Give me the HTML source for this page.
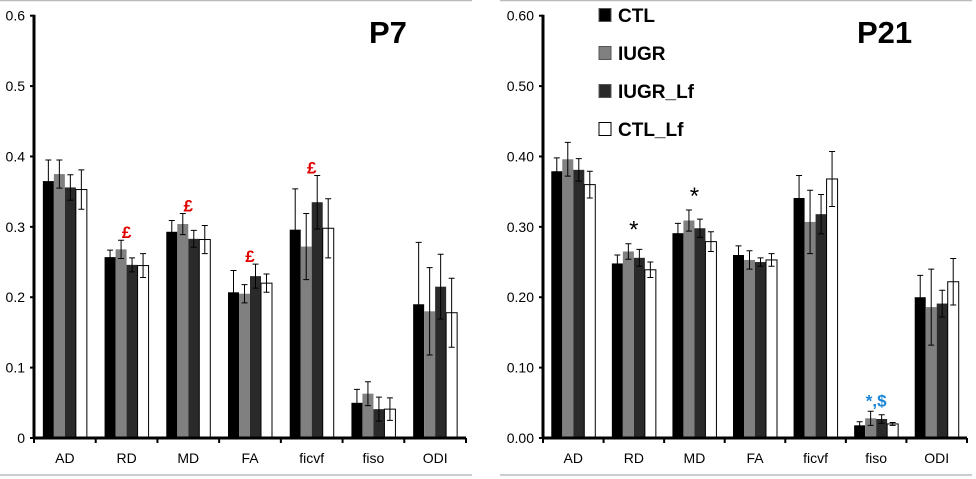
<!DOCTYPE html>
<html><head><meta charset="utf-8"><style>
html,body{margin:0;padding:0;background:#fff;}
svg{display:block;font-family:"Liberation Sans",sans-serif;}
</style></head><body>
<svg id="chart" width="976" height="479" viewBox="0 0 976 479" xmlns="http://www.w3.org/2000/svg">
<line x1="0" y1="0.5" x2="472" y2="0.5" stroke="#bbb" stroke-width="1.5"/>
<line x1="0" y1="475" x2="472" y2="475" stroke="#bbb" stroke-width="1.5"/>
<line x1="500" y1="0.5" x2="972" y2="0.5" stroke="#bbb" stroke-width="1.5"/>
<line x1="500" y1="475" x2="972" y2="475" stroke="#bbb" stroke-width="1.5"/>
<g id="legend"></g>
</svg>
<script>
const categories = ["AD","RD","MD","FA","ficvf","fiso","ODI"];
const seriesNames = ["CTL","IUGR","IUGR_Lf","CTL_Lf"];
const p7CTL = [0.365,0.257,0.293,0.207,0.296,0.050,0.190];
const p7IUGR = [0.375,0.268,0.304,0.205,0.272,0.063,0.180];
const p7IUGRLf = [0.356,0.246,0.283,0.230,0.335,0.041,0.215];
const p7CTLLf = [0.353,0.245,0.282,0.220,0.298,0.041,0.178];
const p7CTLErr = [0.030,0.010,0.016,0.031,0.058,0.019,0.088];
const p7IUGRErr = [0.020,0.013,0.015,0.013,0.047,0.017,0.062];
const p7IUGRLfErr = [0.018,0.010,0.012,0.017,0.038,0.017,0.046];
const p7CTLLfErr = [0.028,0.017,0.020,0.013,0.042,0.016,0.049];
const p21CTL = [0.379,0.248,0.291,0.260,0.341,0.018,0.200];
const p21IUGR = [0.396,0.265,0.309,0.253,0.307,0.028,0.186];
const p21IUGRLf = [0.381,0.256,0.298,0.250,0.318,0.027,0.191];
const p21CTLLf = [0.360,0.239,0.279,0.253,0.368,0.020,0.222];
const p21CTLErr = [0.019,0.012,0.014,0.013,0.032,0.005,0.031];
const p21IUGRErr = [0.024,0.011,0.015,0.013,0.045,0.010,0.054];
const p21IUGRLfErr = [0.016,0.012,0.013,0.006,0.028,0.006,0.019];
const p21CTLLfErr = [0.019,0.011,0.014,0.009,0.039,0.002,0.033];
const p7Ticks = ["0","0.1","0.2","0.3","0.4","0.5","0.6"];
const p21Ticks = ["0.00","0.10","0.20","0.30","0.40","0.50","0.60"];
const p7Marks = [["RD","£"],["MD","£"],["FA","£"],["ficvf","£"]];
const p21Marks = [["RD","*"],["MD","*"],["fiso","*,$"]];

const NS="http://www.w3.org/2000/svg";
const svg=document.getElementById('chart');
const fills=["#000","#808080","#2a2a2a","#fff"];
function mk(tag,attrs,parent){const e=document.createElementNS(NS,tag);for(const k in attrs)e.setAttribute(k,attrs[k]);(parent||svg).appendChild(e);return e;}

function panel(cfg){
  const g=mk('g',{});
  
  
  const y0=438,yTop=15.7,vmax=0.6;
  const ys=v=>y0-(v/vmax)*(y0-yTop);
  const cw=(cfg.x1-cfg.x0)/categories.length;
  const xc=i=>cfg.x0+cw*(i+0.5);
  const bw=11;
  cfg.ticks.forEach((t,i)=>{
    const v=i*0.1,y=ys(v);
    const tk=mk('line',{x1:cfg.x0-4,x2:cfg.x0,y1:y,y2:y,stroke:'#000','stroke-width':2},g);
    
    
    const tx=mk('text',{x:cfg.x0-9,y:y+5,'text-anchor':'end','font-size':14,fill:'#000'},g);
    tx.textContent=t;
    
    
  });
  const data=cfg.vals;
  categories.forEach((c,i)=>{
    data.forEach((arr,s)=>{
      const x=xc(i)-2*bw+s*bw;
      const v=arr[i];
      const r=mk('rect',{x:x,y:ys(v),width:bw,height:y0-ys(v),fill:fills[s],stroke:s===3?'#000':'none','stroke-width':1},g);
      
      
      const e=cfg.errs[s][i],cx=x+bw/2;
      const eb=mk('path',{d:`M${cx},${ys(v+e)}V${ys(v-e)}M${cx-3},${ys(v+e)}H${cx+3}M${cx-3},${ys(v-e)}H${cx+3}`,stroke:'#000','stroke-width':1,fill:'none'},g);
      
      
    });
    const xl=mk('text',{x:xc(i),y:463,'text-anchor':'middle','font-size':14,fill:'#000'},g);
    xl.textContent=c;
    
    
  });
  for(let i=0;i<=categories.length;i++){
    const x=cfg.x0+cw*i;
    const tk=mk('line',{x1:x,x2:x,y1:y0,y2:y0+5,stroke:'#000','stroke-width':2},g);
    
    
  }
  const ya=mk('line',{x1:cfg.x0,x2:cfg.x0,y1:yTop-1,y2:y0+1,stroke:'#000','stroke-width':3},g);
  
  
  const xa=mk('line',{x1:cfg.x0,x2:cfg.x1,y1:y0,y2:y0,stroke:'#000','stroke-width':3},g);
  
  
  cfg.marks.forEach(m=>{
    const i=categories.indexOf(m[0]);
    let top=0;data.forEach((a,s)=>{top=Math.max(top,a[i]+cfg.errs[s][i]);});
    const isStar=m[1]==='*';
    const off=isStar?-6:(m[1]==='£'?-2:-5);
    const t=mk('text',{x:xc(i),y:ys(top)+off,'text-anchor':'middle','font-size':isStar?24:17,'font-weight':isStar?'normal':'bold',fill:cfg.markColor(m[1])},g);
    t.textContent=m[1];
    
    
  });
  const ti=mk('text',{x:cfg.titleX,y:43,'font-size':31,'font-weight':'bold',fill:'#000'},g);
  ti.textContent=cfg.title;
  
  
}
panel({name:'p7-panel',x0:34,x1:466,title:'P7',titleX:369,ticks:p7Ticks,
  vals:[p7CTL,p7IUGR,p7IUGRLf,p7CTLLf],errs:[p7CTLErr,p7IUGRErr,p7IUGRLfErr,p7CTLLfErr],
  marks:p7Marks,markColor:()=> '#e00000'});
panel({name:'p21-panel',x0:543,x1:967,title:'P21',titleX:857,ticks:p21Ticks,
  vals:[p21CTL,p21IUGR,p21IUGRLf,p21CTLLf],errs:[p21CTLErr,p21IUGRErr,p21IUGRLfErr,p21CTLLfErr],
  marks:p21Marks,markColor:s=> s==='*'?'#000':'#1a86d8'});
const lg=document.getElementById('legend');
seriesNames.forEach((n,s)=>{
  const y=15+s*38;
  const r=mk('rect',{x:599,y:y-6.5,width:12,height:13,fill:fills[s],stroke:s===3?'#000':'#555','stroke-width':1},lg);
  
  
  const t=mk('text',{x:618,y:y+7,'font-size':19,'font-weight':'bold',fill:'#000'},lg);
  t.textContent=n;
  
  
});
</script>
</body></html>
